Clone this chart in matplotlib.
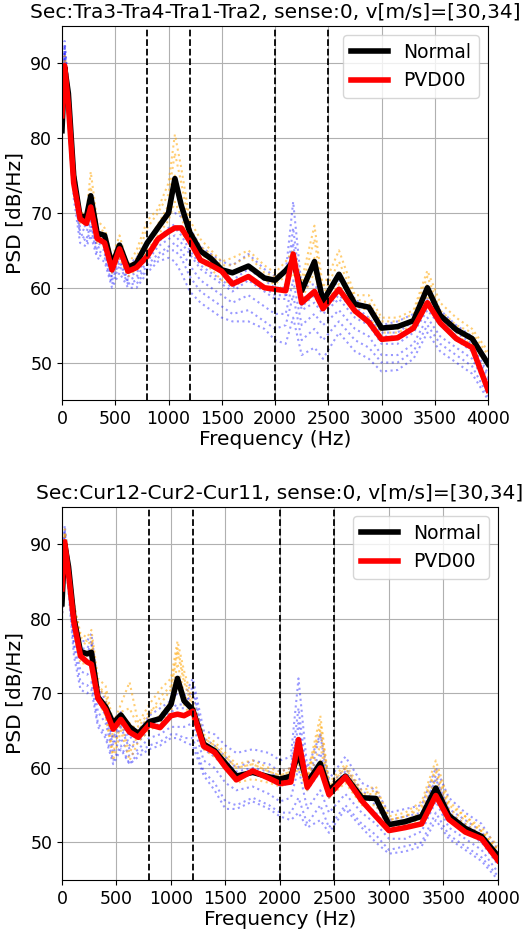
import matplotlib
matplotlib.use("Agg")
import matplotlib.pyplot as plt

# frequencias dos pontos lidos (Hz)
freq = [0, 25, 60, 110, 170, 230, 270, 330, 400, 470, 540, 620, 700, 800, 900,
        1000, 1060, 1120, 1200, 1300, 1400, 1500, 1600, 1750, 1900, 2000, 2100,
        2170, 2250, 2370, 2450, 2600, 2750, 2880, 3000, 3150, 3300, 3430, 3550,
        3700, 3850, 4000]

# faixas de frequencia marcadas
bandas = [800, 1200, 2000, 2500]

# ---- secao Tra3-Tra4-Tra1-Tra2 ----
tra_normal = [81, 89.5, 86, 75, 69.5, 69.5, 72.3, 67.3, 67, 63, 65.7, 62.7, 63.3, 66, 68,
              70, 74.6, 71, 67.4, 64.9, 63.9, 62.4, 62, 62.9, 61.3, 61, 62.3,
              63.5, 59.6, 63.5, 58.2, 61.8, 57.8, 57.4, 54.6, 54.8, 55.6, 60, 56.3,
              54.4, 53.2, 49.8]
tra_pvd = [83, 89.7, 84.5, 74, 69.2, 68.6, 70.8, 66.6, 66, 62.4, 65.2, 62.2, 62.7, 64.2, 66.5,
           67.5, 68, 68, 66.2, 63.7, 63, 62.2, 60.5, 61.5, 60, 59.8, 59.6,
           64.5, 58, 59.5, 57.2, 59.8, 56.9, 55.4, 53.1, 53.3, 54.6, 58, 55.3,
           53.2, 52, 46.3]

# amostras individuais - Normal
tra_amostras_normal = [
    [82, 91, 87, 77, 70, 70, 75.5, 69, 68, 64, 67, 63, 65, 69, 70.5,
     74, 80.5, 76, 69, 66.5, 65, 63.5, 64, 65, 63, 62, 63.5,
     65, 61, 68.3, 60, 65, 59, 59, 56, 56, 57, 62.3, 58, 56, 54.5, 51.5],
    [81, 89, 86, 75.5, 70, 69.5, 73.5, 68, 67.5, 63.5, 66, 62.5, 64, 68, 70,
     72.5, 78, 74, 68, 65.5, 64.5, 63, 63, 64.3, 62, 61.5, 62.5,
     64, 60, 66.5, 59, 63.5, 58.5, 58, 55.5, 55.5, 56.5, 61.5, 57, 55, 54, 51],
    [80, 88.5, 85, 74, 69, 69, 71, 67, 66.5, 63, 65, 62, 63, 66, 68.5,
     71, 75, 72, 67, 64.5, 63.5, 62, 62, 63, 61, 60.5, 61.5,
     63, 59, 64, 58, 62, 57.5, 57, 54.5, 54.5, 55.5, 60.5, 56, 54, 53, 50],
    [80, 88, 84, 73, 68.5, 68.5, 70, 66, 66, 62, 64, 61.5, 62.5, 65, 67,
     69, 71.5, 69.5, 66, 63.5, 62.5, 61, 60.5, 61.5, 60, 59.5, 60.5,
     62, 58.5, 62, 57.5, 60.5, 56.5, 56, 54, 54, 55, 59, 55.5, 53.5, 52.5, 49.5],
]

# amostras individuais - PVD00
tra_amostras_pvd = [
    [84, 93, 87, 76, 70, 69.5, 70, 67.5, 67, 63.5, 66, 63, 64, 66, 68,
     70, 70, 69.5, 68, 65.5, 64.5, 63.5, 63, 64.5, 62.5, 61.5, 62,
     71.5, 60, 60.5, 58.5, 61, 58.5, 57, 55, 55.5, 56.5, 58.5, 57, 55, 53.5, 50],
    [83, 92, 86, 75, 69, 68.5, 69.5, 66.5, 66, 62.5, 65, 62, 62.5, 64.5, 66.5,
     68, 68.5, 67.5, 66, 64, 63, 62, 61, 62.5, 61, 60, 60,
     68, 58.5, 59.5, 57.5, 60, 57.5, 56, 54, 54, 55.5, 58, 56, 54, 52.5, 48.5],
    [83, 92.5, 86, 75, 69, 68, 69.5, 66, 65.5, 62, 64.5, 61.5, 62, 64, 66,
     67.5, 68, 67, 65, 63, 62, 61, 60, 61.5, 60, 59, 59,
     66, 57.5, 59, 57, 59, 57, 55.5, 53.5, 53.5, 55, 57.5, 55.5, 53.5, 52, 48],
    [82, 91, 85, 74, 68, 67.5, 69, 65.5, 65, 61.5, 64, 61, 61.5, 63.5, 65.5,
     66.5, 67, 66, 64.5, 62.5, 61.5, 60.5, 59.5, 61, 59.5, 58.5, 58.5,
     64, 57, 58, 56.5, 58.5, 56, 55, 52.5, 52.5, 54, 57, 55, 53, 51.5, 47.5],
    [81, 90, 84, 73, 67, 66.5, 68.5, 65, 64.5, 61, 63.5, 60.5, 61, 63, 64.5,
     65.5, 66, 65, 63, 61, 60, 59, 58, 59, 57.5, 56.5, 56.5,
     61, 55, 56.5, 55, 57, 54.5, 53.5, 51, 51, 52.5, 56, 53.5, 52, 50.5, 46.5],
    [82, 91.5, 85, 74, 67.5, 66, 68, 64.5, 64, 60.5, 63, 60.5, 60.5, 62.5, 64,
     65, 65, 64, 61.5, 59.5, 58.5, 57.5, 56.5, 57, 55.5, 54.5, 55,
     59, 53, 54.5, 53, 55.5, 53, 52, 50, 50, 51.5, 55, 52.5, 51, 49.5, 45.5],
    [80, 90, 83, 72, 66, 65.5, 67, 64, 63.5, 60, 62, 60, 60, 62, 63.5,
     64, 63.5, 62, 59.5, 58, 57, 56, 55.5, 55.5, 54.5, 53, 52.5,
     56, 51, 52, 50.5, 54, 51.5, 50.5, 48.8, 49, 50.5, 54, 51.5, 50, 48.5, 45],
]

# ---- secao Cur12-Cur2-Cur11 ----
cur_normal = [82, 90, 87, 80, 75.6, 75.3, 75.5, 69.5, 68.2, 66, 67.1, 65.5, 64.6, 66.2, 66.6,
              68.5, 72, 69, 67.8, 63.2, 62.3, 60.6, 58.9, 59.4, 58.8, 58.5, 58.9,
              62, 58, 60.6, 57, 58.9, 56, 55.9, 52.4, 52.8, 53.5, 57.3, 53.6,
              51.9, 50.8, 48.2]
cur_pvd = [84, 90.3, 86, 79.5, 75, 74.2, 73.9, 69.3, 67.8, 65.2, 66.5, 64.8, 64.1, 65.8, 65.4,
           67, 67.2, 67, 67.6, 62.9, 62.1, 60.1, 58.4, 59.6, 58.6, 57.9, 58.1,
           63.8, 57.4, 60, 56.4, 58.8, 55.6, 53.5, 51.6, 52, 52.5, 56.3, 53.1,
           51.4, 50.5, 47.6]

cur_amostras_normal = [
    [83, 92, 88, 82, 78, 77.5, 78.5, 72, 71, 66, 68.5, 71.5, 66, 68.5, 70.5,
     72, 77, 73, 69, 64.5, 63.5, 62, 60.5, 61, 60, 59.5, 60,
     62, 59, 67, 58, 60.5, 57, 57.5, 53.5, 54, 55.5, 61, 55.5, 53.5, 52, 49.5],
    [82, 91.5, 87.5, 81.5, 77.5, 77, 77.5, 71, 70, 65, 67, 66, 65, 67, 69.5,
     71, 76, 72, 68.5, 64, 63, 61.5, 60, 60.5, 59.5, 59, 59.5,
     61.5, 58.5, 66, 57.5, 60, 56.5, 57, 53, 53.5, 55, 60, 55, 53.5, 51.5, 49],
    [82, 91, 87, 81, 77, 76.5, 77, 71, 69.5, 64, 67.5, 68, 65.5, 67.5, 68.5,
     70.5, 75.5, 71.5, 68, 64, 63, 61.5, 60, 60.5, 59.5, 59, 59.5,
     61, 58.5, 65, 57.5, 60, 56.5, 56.5, 53, 53.5, 54.5, 59.5, 54.5, 53, 51.5, 49],
    [81, 90, 86, 79, 75.5, 75, 76, 70, 68, 62, 66, 62, 64.5, 66, 67,
     69, 74, 70, 67.5, 63.5, 62.5, 61, 59, 59.5, 59, 58.5, 59,
     60.5, 58, 63, 57, 59, 56, 56, 52.5, 53, 54, 58.5, 54, 52.5, 51, 48.5],
    [80, 89, 85, 78, 74, 74, 74.5, 69, 67, 61, 65, 61, 63.5, 65, 66,
     67.5, 71, 68.5, 66.5, 62.5, 61.5, 60, 58, 58.5, 58, 57.5, 58,
     60, 57, 61, 56, 58, 55, 55, 52, 52.5, 53, 57, 53.5, 52, 50.5, 48],
]

cur_amostras_pvd = [
    [84, 92.5, 88, 81, 77, 77, 78, 71, 69, 65, 67.5, 65, 65, 67, 68,
     69, 70, 69.5, 72, 65, 64.5, 63, 62, 62.5, 62, 61, 61.5,
     72, 60, 64.5, 58.5, 61.5, 58, 57, 54, 54.5, 55, 60, 56, 54, 52.5, 49],
    [83, 91.5, 87, 80, 76, 76, 77, 70, 68, 64, 66.5, 64, 64.5, 66, 67,
     68, 68.5, 68.5, 70, 64, 63, 61.5, 60, 61, 60.5, 59.5, 60,
     68, 58.5, 62, 57.5, 60, 57, 55.5, 53, 53.5, 54, 58.5, 54.5, 53, 51.5, 48],
    [82.5, 92, 86.5, 80, 75.5, 75.5, 76.5, 70, 67.5, 63.5, 66, 63, 64, 65.5, 66.5,
     67.5, 68, 68, 71, 63.5, 62.5, 61, 59.5, 60, 59.5, 58.5, 59,
     66, 57.5, 64.5, 57, 59.5, 56.5, 55, 52, 52.5, 53.5, 59, 54, 52.5, 51, 47.5],
    [82, 91, 86, 79, 75, 74.5, 75.5, 69, 67, 63, 65.5, 62.5, 63.5, 65, 66,
     67, 67, 67, 68, 62.5, 61.5, 60, 58.5, 59.5, 58.5, 57.5, 58,
     64, 57, 59.5, 56, 58.5, 55.5, 54, 51.5, 52, 52.5, 57, 53, 51.5, 50, 47],
    [81, 90.5, 85, 77, 73, 72.5, 73, 67.5, 66, 62, 64, 61.5, 62.5, 64, 64.5,
     65.5, 65.5, 65.5, 66, 61, 60, 58, 57, 57.5, 56.5, 55.5, 56,
     60, 54.5, 57, 54, 56.5, 54, 52.5, 50.5, 50.5, 51.5, 55.5, 52, 50.5, 49, 46],
    [80, 90, 84, 76, 71.5, 71, 71.5, 66, 64.5, 61, 63, 60.5, 62, 63, 63.5,
     64.5, 64.5, 64, 64, 59.5, 58, 55.5, 55, 56, 55, 54, 54,
     56, 52.5, 55, 52, 55, 52.5, 51, 49, 49.5, 50, 54, 51, 49.5, 48, 45.5],
    [80, 89.5, 83.5, 75, 70.5, 70, 70.5, 65.5, 64, 60.5, 62.5, 60.5, 61.5, 62.5, 63,
     64, 64, 63.5, 63, 59, 57, 54.5, 54.5, 55.5, 54.5, 53.5, 53,
     54, 52, 53, 51.3, 54.5, 52, 50, 48.5, 48.8, 49.5, 53, 50.5, 49, 47.5, 45],
]

titulos = ["Sec:Tra3-Tra4-Tra1-Tra2, sense:0, v[m/s]=[30,34]",
           "Sec:Cur12-Cur2-Cur11, sense:0, v[m/s]=[30,34]"]


def desenha_psd(ax, titulo, normal, pvd, amostras_normal, amostras_pvd):
    # curvas individuais pontilhadas
    for amostra in amostras_pvd:
        ax.plot(freq, amostra, ls=':', lw=1.5, color='blue', alpha=0.4)
    for amostra in amostras_normal:
        ax.plot(freq, amostra, ls=':', lw=1.5, color='orange', alpha=0.55)

    # medias
    ax.plot(freq, normal, color='black', lw=4, label='Normal')
    ax.plot(freq, pvd, color='red', lw=4, label='PVD00')

    for b in bandas:
        ax.axvline(b, color='black', ls='--', lw=1.3)

    ax.set_xlim(0, 4000)
    ax.set_ylim(45, 95)
    ax.set_xticks(range(0, 4001, 500))
    ax.set_yticks([50, 60, 70, 80, 90])
    ax.grid(True, color='#b0b0b0', lw=0.8)
    ax.tick_params(labelsize=12.5)
    ax.set_xlabel("Frequency (Hz)", fontsize=14.5, labelpad=2)
    ax.set_ylabel("PSD [dB/Hz]", fontsize=14.5)
    ax.set_title(titulo, fontsize=14.5)
    ax.legend(loc='upper right', fontsize=13.5, handlelength=2.0)


fig = plt.figure(figsize=(5.32, 9.30), dpi=100)
ax1 = fig.add_axes([0.1165, 0.570, 0.801, 0.402])
ax2 = fig.add_axes([0.1165, 0.054, 0.8195, 0.401])

desenha_psd(ax1, titulos[0], tra_normal, tra_pvd, tra_amostras_normal, tra_amostras_pvd)
desenha_psd(ax2, titulos[1], cur_normal, cur_pvd, cur_amostras_normal, cur_amostras_pvd)

fig.savefig("out.png", dpi=100)
